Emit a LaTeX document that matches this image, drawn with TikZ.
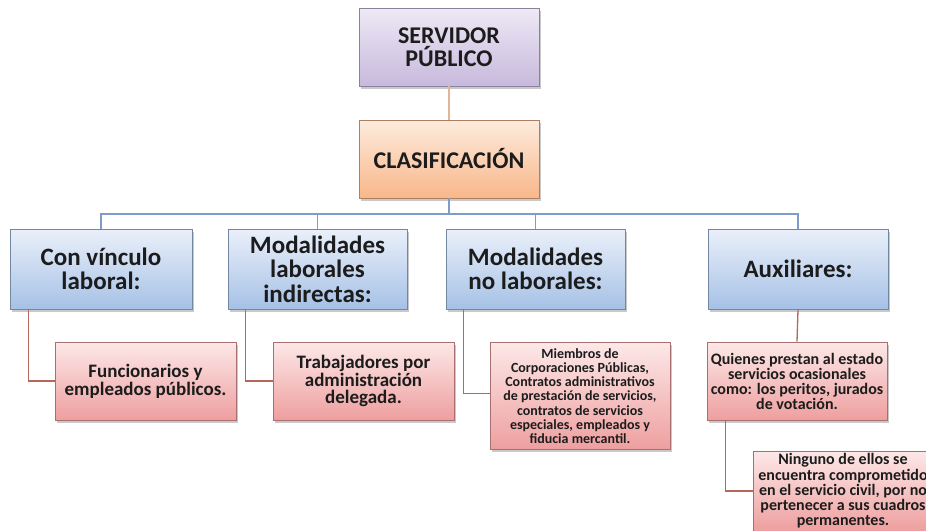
\documentclass[tikz,border=0pt]{standalone}
\usepackage{fontspec}
\setmainfont{Carlito}
\usetikzlibrary{shadows}
\definecolor{moradoA}{HTML}{EEE9F5}
\definecolor{moradoB}{HTML}{C7B9DD}
\definecolor{naranjaA}{HTML}{FDEBDD}
\definecolor{naranjaB}{HTML}{F8B78A}
\definecolor{azulA}{HTML}{EAF0FA}
\definecolor{azulB}{HTML}{A6C1E6}
\definecolor{rosaA}{HTML}{FDE8E8}
\definecolor{rosaB}{HTML}{EE9F9F}
\definecolor{lineaazul}{HTML}{7F9BC9}
\definecolor{linearoja}{HTML}{B4685C}
\definecolor{lineatan}{HTML}{E3B597}
\definecolor{texto}{HTML}{1C1C1C}

\begin{document}
\begin{tikzpicture}[x=1pt,y=-1pt,
    caja/.style={rectangle,draw=black!30,line width=0.6pt,align=center,text=texto,
        inner sep=0pt,minimum width=180pt,minimum height=78pt,
        drop shadow={shadow xshift=2pt,shadow yshift=-2.5pt,opacity=0.35,fill=black!60}},
    morado/.style={caja,top color=moradoA,bottom color=moradoB,draw=moradoB!70!black},
    naranja/.style={caja,top color=naranjaA,bottom color=naranjaB,draw=naranjaB!70!black},
    azul/.style={caja,top color=azulA,bottom color=azulB,draw=azulB!70!black,minimum height=80pt},
    rosa/.style={caja,top color=rosaA,bottom color=rosaB,draw=rosaB!70!black},
    enlace/.style={line width=1.3pt},
]
    \useasboundingbox[fill=white](0,0)rectangle(926,530);
    % niveles superiores
    \node[morado,font=\bfseries\fontsize{24}{23}\selectfont](srv)at(449,47){SERVIDOR\\PÚBLICO};
    \node[naranja,font=\bfseries\fontsize{24}{23}\selectfont](clas)at(449,159){CLASIFICACIÓN};
    % clases
    \node[azul,minimum width=182pt,font=\bfseries\fontsize{25}{24.5}\selectfont](vin)at(101,269){Con vínculo\\laboral:};
    \node[azul,minimum width=179pt,font=\bfseries\fontsize{25}{24.5}\selectfont](ind)at(317.5,269){Modalidades\\laborales\\indirectas:};
    \node[azul,minimum width=179pt,font=\bfseries\fontsize{25}{24.5}\selectfont](nolab)at(535.5,269){Modalidades\\no laborales:};
    \node[azul,font=\bfseries\fontsize{25}{24.5}\selectfont](aux)at(798,269){Auxiliares:};
    % ejemplos
    \node[rosa,minimum width=181pt,font=\bfseries\fontsize{19}{17.7}\selectfont](fun)at(145.5,381){Funcionarios y\\empleados públicos.};
    \node[rosa,minimum width=181pt,font=\bfseries\fontsize{19}{17.7}\selectfont](trab)at(363.5,381){Trabajadores por\\administración\\delegada.};
    \node[rosa,minimum height=107pt,font=\bfseries\fontsize{14}{14.2}\selectfont](miem)at(580,396){Miembros de\\Corporaciones Públicas,\\Contratos administrativos\\de prestación de servicios,\\contratos de servicios\\especiales, empleados y\\fiducia mercantil.};
    \node[rosa,font=\bfseries\fontsize{16}{15}\selectfont](quien)at(797,381){Quienes prestan al estado\\servicios ocasionales\\como: los peritos, jurados\\de votación.};
    \node[rosa,minimum height=80pt,font=\bfseries\fontsize{16}{15.2}\selectfont](ning)at(843,491){Ninguno de ellos se\\encuentra comprometido\\en el servicio civil, por no\\pertenecer a sus cuadros\\permanentes.};
    % conectores
    \draw[enlace,lineatan](srv)--(clas);
    \draw[enlace,lineaazul](clas.south)--(449,214)coordinate(bus);
    \draw[enlace,lineaazul](vin.north)--(vin.north|-bus)--(aux.north|-bus)--(aux.north);
    \draw[enlace,lineaazul](ind.north)--(ind.north|-bus);
    \draw[enlace,lineaazul](nolab.north)--(nolab.north|-bus);
    \draw[enlace,linearoja]([xshift=19pt]vin.south west)|-(fun.west);
    \draw[enlace,linearoja]([xshift=18pt]ind.south west)|-(trab.west);
    \draw[enlace,linearoja]([xshift=18pt]nolab.south west)|-([yshift=2.5pt]miem.west);
    \draw[enlace,linearoja](aux.south)--(quien.north);
    \draw[enlace,linearoja]([xshift=19pt]quien.south west)|-(ning.west);
\end{tikzpicture}
\end{document}
